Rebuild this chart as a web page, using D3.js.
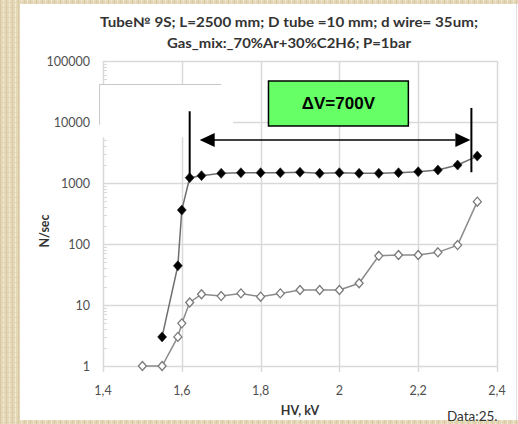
<!DOCTYPE html>
<html>
<head>
<meta charset="utf-8">
<script src="https://cdn.jsdelivr.net/npm/d3@7"></script>
<style>
  body { margin: 0; padding: 0; }
  svg { display: block; }
</style>
</head>
<body>
<div id="chart"></div>
<script>
// series: filled diamonds
let hv1 = [1.55, 1.59, 1.60, 1.62, 1.65, 1.70, 1.75, 1.80, 1.85, 1.90, 1.95, 2.00, 2.05, 2.10, 2.15, 2.20, 2.25, 2.30, 2.35];
let n1 = [3, 44, 360, 1220, 1320, 1440, 1475, 1475, 1475, 1500, 1440, 1475, 1440, 1440, 1475, 1530, 1630, 1970, 2760];
// series: open diamonds
let hv2 = [1.50, 1.55, 1.59, 1.60, 1.62, 1.65, 1.70, 1.75, 1.80, 1.85, 1.90, 1.95, 2.00, 2.05, 2.10, 2.15, 2.20, 2.25, 2.30, 2.35];
let n2 = [1, 1, 3, 5, 11, 15, 14, 15.5, 13.7, 15.5, 17.6, 17.6, 17.6, 22.7, 64, 66, 66, 73, 96, 494];

let xTicks = [1.4, 1.6, 1.8, 2.0, 2.2, 2.4];
let yTicks = [1, 10, 100, 1000, 10000, 100000];
let titleLines = ["Tube№ 9S; L=2500 mm; D tube =10 mm; d wire= 35um;", "Gas_mix:_70%Ar+30%C2H6; P=1bar"];
let deltaLabel = "ΔV=700V";
let plateau = [1.62, 2.335]; // kV, ends of the arrow

let width = 518,
    height = 424;

let colorBeige = "#e6d9ba";
let colorGrid = "#d9d9d9";
let colorTick = "#505050";
let colorGreen = "#66ff66";

let svg = d3.select("#chart")
    .append("svg")
    .attr("width", width)
    .attr("height", height);

// textured frame
let defs = svg.append("defs");
let pat = defs.append("pattern")
    .attr("id", "paper")
    .attr("width", 6)
    .attr("height", 5)
    .attr("patternUnits", "userSpaceOnUse");
pat.append("rect").attr("width", 6).attr("height", 5).style("fill", colorBeige);
pat.append("rect").attr("x", 0).attr("width", 1).attr("height", 5).style("fill", "#d8c8a2");
pat.append("rect").attr("x", 3).attr("width", 1).attr("height", 5).style("fill", "#f1e8d2");
pat.append("rect").attr("y", 2).attr("width", 6).attr("height", 1).style("fill", "#ddcfae").style("opacity", 0.6);

svg.append("rect")
    .attr("width", width)
    .attr("height", height)
    .style("fill", "url(#paper)");

svg.append("rect")
    .attr("x", 20)
    .attr("y", 4)
    .attr("width", 498)
    .attr("height", 416)
    .style("fill", "#fff");

svg.append("line")
    .attr("x1", 516.5).attr("x2", 516.5)
    .attr("y1", 4).attr("y2", 420)
    .style("stroke", "#e0e0e0");

let x = d3.scaleLinear()
    .domain([1.4, 2.4])
    .range([103, 497]);

let y = d3.scaleLog()
    .domain([1, 100000])
    .range([366, 61]);

let fmt = function(d) { return d3.format("~g")(d).replace(".", ","); };

// grid
svg.selectAll(".hgrid")
    .data(yTicks)
    .enter()
    .append("line")
    .attr("class", "hgrid")
    .attr("x1", x(1.4))
    .attr("x2", x(2.4))
    .attr("y1", function(d) { return Math.round(y(d)) + 0.5; })
    .attr("y2", function(d) { return Math.round(y(d)) + 0.5; })
    .style("stroke", colorGrid)
    .style("stroke-width", 1.5);

svg.selectAll(".vgrid")
    .data(xTicks)
    .enter()
    .append("line")
    .attr("class", "vgrid")
    .attr("x1", function(d) { return Math.round(x(d)) + 0.5; })
    .attr("x2", function(d) { return Math.round(x(d)) + 0.5; })
    .attr("y1", y(100000))
    .attr("y2", y(1) + 6)
    .style("stroke", colorGrid)
    .style("stroke-width", 1.5);

// minor ticks on y axis
let minor = [];
for (let p = 1; p < 100000; p *= 10) {
    for (let k = 2; k < 10; k++) minor.push(p * k);
}
svg.selectAll(".minor")
    .data(minor)
    .enter()
    .append("line")
    .attr("class", "minor")
    .attr("x1", x(1.4))
    .attr("x2", x(1.4) + 4)
    .attr("y1", function(d) { return Math.round(y(d)) + 0.5; })
    .attr("y2", function(d) { return Math.round(y(d)) + 0.5; })
    .style("stroke", colorGrid);

// tick labels
svg.selectAll(".ylab")
    .data(yTicks)
    .enter()
    .append("text")
    .attr("class", "ylab")
    .attr("x", 90)
    .attr("y", function(d) { return y(d) + 4.5; })
    .attr("text-anchor", "end")
    .style("font", "12.5px Lato, 'Open Sans', sans-serif")
    .style("fill", colorTick)
    .text(function(d) { return d; });

svg.selectAll(".xlab")
    .data(xTicks)
    .enter()
    .append("text")
    .attr("class", "xlab")
    .attr("x", function(d) { return x(d); })
    .attr("y", 395)
    .attr("text-anchor", "middle")
    .style("font", "12.5px Lato, 'Open Sans', sans-serif")
    .style("fill", colorTick)
    .text(fmt);

// erased legend box
let box = svg.append("g");
box.append("rect")
    .attr("x", x(1.39))
    .attr("y", y(42000))
    .attr("width", x(1.73) - x(1.39))
    .attr("height", y(5600) - y(42000))
    .style("fill", "#fff");
box.append("path")
    .attr("d", "M" + (x(1.39) + 0.5) + "," + (y(9000)) + "V" + (Math.round(y(42000)) + 0.5) + "H" + x(1.70))
    .style("fill", "none")
    .style("stroke", "#c8c8c8");

// axis titles
svg.append("text")
    .attr("transform", "translate(49," + 231 + ") rotate(-90)")
    .attr("text-anchor", "middle")
    .style("font", "bold 12.5px Lato, sans-serif")
    .style("fill", "#333")
    .text("N/sec");

svg.append("text")
    .attr("x", 300)
    .attr("y", 415)
    .attr("text-anchor", "middle")
    .style("font", "bold 12.5px Lato, sans-serif")
    .style("fill", "#333")
    .text("HV, kV");

svg.append("text")
    .attr("x", 447)
    .attr("y", 421)
    .style("font", "13.5px Lato, sans-serif")
    .style("fill", "#333")
    .text("Data:25.");

// title
svg.selectAll(".title")
    .data(titleLines)
    .enter()
    .append("text")
    .attr("class", "title")
    .attr("x", 289)
    .attr("y", function(d, i) { return 27 + i * 21; })
    .attr("text-anchor", "middle")
    .attr("textLength", function(d, i) { return i === 0 ? 378 : 244; })
    .attr("lengthAdjust", "spacingAndGlyphs")
    .style("font", "bold 13px Lato, sans-serif")
    .style("fill", "#333")
    .text(function(d) { return d; });

// lines
let line = d3.line()
    .x(function(d) { return x(d[0]); })
    .y(function(d) { return y(d[1]); });

let s1 = d3.zip(hv1, n1);
let s2 = d3.zip(hv2, n2);

svg.append("path")
    .attr("d", line(s2))
    .style("fill", "none")
    .style("stroke", "#8c8c8c")
    .style("stroke-width", 1.5);

svg.append("path")
    .attr("d", line(s1))
    .style("fill", "none")
    .style("stroke", "#6e6e6e")
    .style("stroke-width", 1.5);

let diamond = function(rx, ry) {
    return "M0," + (-ry) + "L" + rx + ",0L0," + ry + "L" + (-rx) + ",0Z";
};

svg.selectAll(".open")
    .data(s2)
    .enter()
    .append("path")
    .attr("class", "open")
    .attr("transform", function(d) { return "translate(" + x(d[0]) + "," + y(d[1]) + ")"; })
    .attr("d", diamond(4, 4.5))
    .style("fill", "#fff")
    .style("stroke", "#7a7a7a")
    .style("stroke-width", 1.3);

svg.selectAll(".filled")
    .data(s1)
    .enter()
    .append("path")
    .attr("class", "filled")
    .attr("transform", function(d) { return "translate(" + x(d[0]) + "," + y(d[1]) + ")"; })
    .attr("d", diamond(4.5, 5))
    .style("fill", "#000")
    .style("stroke", "#222")
    .style("stroke-width", 0.6);

// plateau arrow
let arrowY = y(5070);
let ann = svg.append("g");
ann.append("line")
    .attr("x1", x(plateau[0])).attr("x2", x(plateau[0]))
    .attr("y1", y(15000)).attr("y2", y(1200))
    .style("stroke", "#000").style("stroke-width", 2);
ann.append("line")
    .attr("x1", x(plateau[1])).attr("x2", x(plateau[1]))
    .attr("y1", y(17000)).attr("y2", y(1500))
    .style("stroke", "#000").style("stroke-width", 2);
ann.append("line")
    .attr("x1", x(plateau[0]) + 20).attr("x2", x(plateau[1]) - 16)
    .attr("y1", arrowY).attr("y2", arrowY)
    .style("stroke", "#000").style("stroke-width", 1.5);
ann.append("path")
    .attr("d", "M" + (x(plateau[0]) + 10) + "," + arrowY + "l15,-7v14z")
    .style("fill", "#000");
ann.append("path")
    .attr("d", "M" + (x(plateau[1]) - 1) + "," + arrowY + "l-15,-7v14z")
    .style("fill", "#000");

// delta V label
ann.append("rect")
    .attr("x", x(1.82))
    .attr("y", y(47000))
    .attr("width", x(2.175) - x(1.82))
    .attr("height", y(8600) - y(47000))
    .style("fill", colorGreen)
    .style("stroke", "#000")
    .style("stroke-width", 1.5);
ann.append("text")
    .attr("x", (x(1.82) + x(2.175)) / 2)
    .attr("y", (y(47000) + y(8600)) / 2 + 6)
    .attr("text-anchor", "middle")
    .style("font", "bold 17px 'Liberation Sans', Arial, sans-serif")
    .style("fill", "#000")
    .text(deltaLabel);
</script>
</body>
</html>
